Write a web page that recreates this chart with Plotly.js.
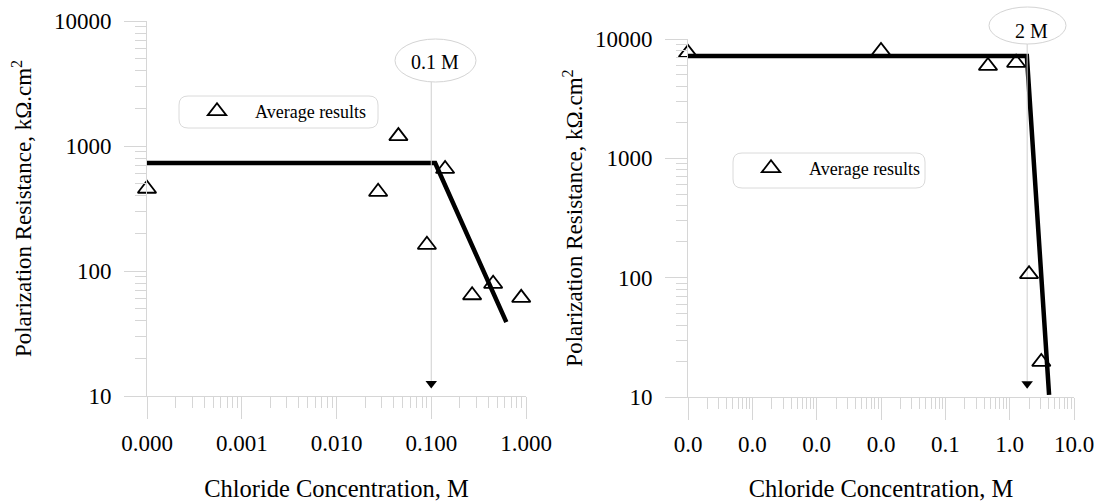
<!DOCTYPE html>
<html>
<head>
<meta charset="utf-8">
<script src="https://cdn.plot.ly/plotly-3.0.1.min.js"></script>
<style>html,body{margin:0;padding:0;background:#fff;}#chart{width:1099px;height:502px;}</style>
</head>
<body>
<div id="chart"></div>
<script>
// ---- Data ----
var leftX = [0.0001, 0.0275, 0.045, 0.14, 0.09, 0.27, 0.45, 0.89];
var leftY = [455, 430, 1200, 655, 162, 64, 79, 61];
var leftFitX = [0.0001, 0.11, 0.62];
var leftFitY = [730, 730, 39];
var leftCriticalX = [0.1, 0.1];
var leftCriticalY = [3250, 13.2];
var leftArrowY = [12.6];
var leftTickVals = [0.0001, 0.001, 0.01, 0.1, 1];
var leftTickText = ["0.000", "0.001", "0.010", "0.100", "1.000"];

var rightX = [0.00001, 0.01, 0.46, 1.26, 2.0, 3.1];
var rightY = [7650, 7950, 5950, 6320, 107, 19.7];
var rightFitX = [0.00001, 1.85, 4.1];
var rightFitY = [7200, 7200, 10.4];
var rightCriticalX = [1.87, 1.87];
var rightCriticalY = [9080, 13.6];
var rightArrowY = [12.9];
var rightTickVals = [0.00001, 0.0001, 0.001, 0.01, 0.1, 1, 10];
var rightTickText = ["0.0", "0.0", "0.0", "0.0", "0.1", "1.0", "10.0"];

var yTickVals = [10, 100, 1000, 10000];
var yTickText = ["10", "100", "1000", "10000"];

var legendName = "Average results";
var xTitle = "Chloride Concentration, M";
var yTitle = "Polarization Resistance, kΩ.cm<sup>2</sup>";
var leftNote = "0.1 M";
var rightNote = "2 M";

// ---- helpers ----
function minorVals(p0, p1) {
  var v = [];
  for (var p = p0; p < p1; p++) {
    for (var k = 2; k <= 9; k++) v.push(k * Math.pow(10, p));
  }
  return v;
}

var W = 1099, H = 502;
var FONT = "Liberation Serif, Times New Roman, serif";
var AX = "#d6d6d6";
function px(x) { return x / W; }
function py(y) { return 1 - y / H; }
function roundRect(x0, y0, x1, y1, r) {
  function P(x, y) { return px(x) + ',' + py(y); }
  return 'M' + P(x0 + r, y0) + ' L' + P(x1 - r, y0) + ' Q' + P(x1, y0) + ' ' + P(x1, y0 + r) +
    ' L' + P(x1, y1 - r) + ' Q' + P(x1, y1) + ' ' + P(x1 - r, y1) +
    ' L' + P(x0 + r, y1) + ' Q' + P(x0, y1) + ' ' + P(x0, y1 - r) +
    ' L' + P(x0, y0 + r) + ' Q' + P(x0, y0) + ' ' + P(x0 + r, y0) + ' Z';
}

var traces = [
  {x: leftFitX, y: leftFitY, xaxis: 'x', yaxis: 'y', mode: 'lines', line: {color: '#000', width: 4.5}, showlegend: false, cliponaxis: false, hoverinfo: 'skip'},
  {x: leftCriticalX, y: leftCriticalY, xaxis: 'x', yaxis: 'y', mode: 'lines', line: {color: '#cfcfcf', width: 1}, showlegend: false, cliponaxis: false},
  {x: [leftCriticalX[0]], y: leftArrowY, xaxis: 'x', yaxis: 'y', mode: 'markers', marker: {symbol: 'triangle-down', size: 10, color: '#000'}, showlegend: false, cliponaxis: false},
  {x: leftX, y: leftY, xaxis: 'x', yaxis: 'y', mode: 'markers', name: legendName, legend: 'legend',
   marker: {symbol: 'triangle-up-open', size: 16, color: '#000', line: {width: 1.8}}, cliponaxis: false},

  {x: rightFitX, y: rightFitY, xaxis: 'x2', yaxis: 'y2', mode: 'lines', line: {color: '#000', width: 4.5}, showlegend: false, cliponaxis: false},
  {x: rightCriticalX, y: rightCriticalY, xaxis: 'x2', yaxis: 'y2', mode: 'lines', line: {color: '#cfcfcf', width: 1}, showlegend: false, cliponaxis: false},
  {x: [rightCriticalX[0]], y: rightArrowY, xaxis: 'x2', yaxis: 'y2', mode: 'markers', marker: {symbol: 'triangle-down', size: 10, color: '#000'}, showlegend: false, cliponaxis: false},
  {x: rightX, y: rightY, xaxis: 'x2', yaxis: 'y2', mode: 'markers', name: legendName, legend: 'legend2',
   marker: {symbol: 'triangle-up-open', size: 16, color: '#000', line: {width: 1.8}}, cliponaxis: false}
];

function xAxis(domain, range, vals, text, anchor, minor) {
  return {
    type: 'log', domain: domain, range: range, anchor: anchor,
    showline: true, linecolor: AX, linewidth: 1, showgrid: false, zeroline: false,
    ticks: 'outside', ticklen: 22, tickcolor: AX, tickwidth: 1,
    tickmode: 'array', tickvals: vals, ticktext: text, ticklabelstandoff: 4,
    tickfont: {family: FONT, size: 23, color: '#000'},
    minor: {ticks: 'outside', ticklen: 11, tickcolor: AX, tickwidth: 1, tickmode: 'array', tickvals: minor, showgrid: false},
    title: {text: xTitle, font: {family: FONT, size: 24.5, color: '#000'}, standoff: 26},
    automargin: false, fixedrange: true
  };
}
function yAxis(domain, anchor, standoff) {
  return {
    type: 'log', domain: domain, range: [1, 4], anchor: anchor,
    showline: true, linecolor: AX, linewidth: 1, showgrid: false, zeroline: false,
    ticks: 'outside', ticklen: 22, tickcolor: AX, tickwidth: 1,
    tickmode: 'array', tickvals: yTickVals, ticktext: yTickText, ticklabelstandoff: 8,
    tickfont: {family: FONT, size: 23, color: '#000'},
    minor: {ticks: 'outside', ticklen: 11, tickcolor: AX, tickwidth: 1, tickmode: 'array', tickvals: minorVals(1, 4), showgrid: false},
    title: {text: yTitle, font: {family: FONT, size: 23, color: '#000'}, standoff: standoff},
    automargin: false, fixedrange: true
  };
}

var legendBase = {xanchor: 'left', yanchor: 'top', bgcolor: 'rgba(0,0,0,0)', borderwidth: 0,
                  font: {family: FONT, size: 18, color: '#000'}, itemwidth: 66};

var layout = {
  width: W, height: H,
  margin: {l: 0, r: 0, t: 0, b: 0},
  paper_bgcolor: '#fff', plot_bgcolor: 'rgba(0,0,0,0)',
  font: {family: FONT, color: '#000'},
  xaxis: xAxis([px(147), px(526)], [-4, 0], leftTickVals, leftTickText, 'y', minorVals(-4, 0)),
  yaxis: yAxis([106 / H, 481 / H], 'x', 15),
  xaxis2: xAxis([px(688), px(1074)], [-5, 1], rightTickVals, rightTickText, 'y2', minorVals(-5, 1)),
  yaxis2: yAxis([105 / H, 463 / H], 'x2', 5),
  legend: Object.assign({}, legendBase, {x: px(179), y: py(93)}),
  legend2: Object.assign({}, legendBase, {x: px(733), y: py(150)}),
  shapes: [
    {type: 'path', xref: 'paper', yref: 'paper', path: roundRect(179, 96, 378, 128, 9),
     line: {color: '#dadada', width: 1}, fillcolor: 'rgba(0,0,0,0)'},
    {type: 'path', xref: 'paper', yref: 'paper', path: roundRect(733, 153, 925, 188, 9),
     line: {color: '#dadada', width: 1}, fillcolor: 'rgba(0,0,0,0)'},
    {type: 'circle', xref: 'paper', yref: 'paper', x0: px(395), x1: px(476), y0: py(82), y1: py(39),
     line: {color: '#d4d4d4', width: 1}, fillcolor: 'rgba(0,0,0,0)'},
    {type: 'circle', xref: 'paper', yref: 'paper', x0: px(989), x1: px(1066), y0: py(44), y1: py(7),
     line: {color: '#d4d4d4', width: 1}, fillcolor: 'rgba(0,0,0,0)'}
  ],
  annotations: [
    {xref: 'paper', yref: 'paper', x: px(435), y: py(62), text: leftNote, showarrow: false,
     font: {family: FONT, size: 20, color: '#000'}, xanchor: 'center', yanchor: 'middle'},
    {xref: 'paper', yref: 'paper', x: px(1031), y: py(31), text: rightNote, showarrow: false,
     font: {family: FONT, size: 20, color: '#000'}, xanchor: 'center', yanchor: 'middle'}
  ]
};

Plotly.newPlot('chart', traces, layout, {displayModeBar: false, staticPlot: true});
</script>
</body>
</html>
